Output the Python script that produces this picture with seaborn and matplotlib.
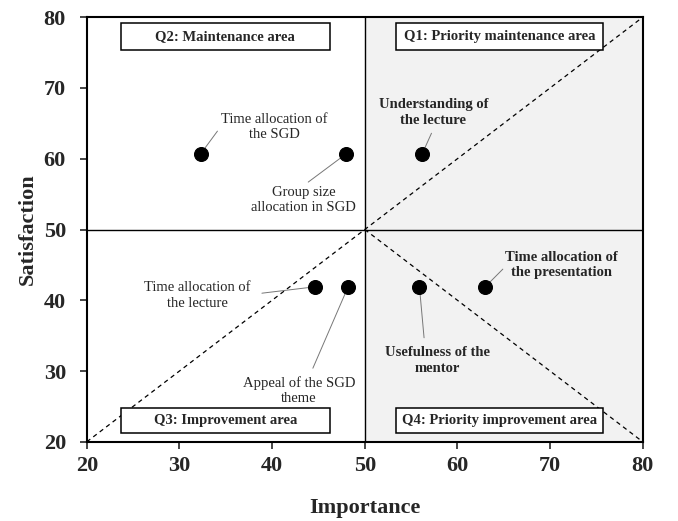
import matplotlib
matplotlib.use("Agg")
import matplotlib.pyplot as plt
from matplotlib.patches import Rectangle
import seaborn as sns
import pandas as pd

# IPA data
items = ["Time allocation of\nthe SGD", "Group size\nallocation in SGD", "Understanding of\nthe lecture",
         "Time allocation of\nthe lecture", "Appeal of the SGD\ntheme", "Usefulness of the\nmentor",
         "Time allocation of\nthe presentation"]
importance = [32.3, 48.0, 56.2, 44.6, 48.2, 55.9, 63.0]
satisfaction = [60.7, 60.7, 60.7, 41.9, 41.9, 41.9, 41.9]
bold_item = [False, False, True, False, False, True, True]
# label centre for each item
label_x = [40.2, 43.4, 57.4, 31.9, 42.9, 57.8, 71.2]
label_y = [64.5, 54.2, 66.5, 40.7, 27.2, 31.5, 45.0]
# where the leader line ends near the label
line_x = [34.1, 43.9, 57.2, 38.9, 44.4, 56.4, 64.9]
line_y = [63.9, 56.7, 63.6, 41.0, 30.4, 34.7, 44.4]

quadrants = ["Q2: Maintenance area", "Q1: Priority maintenance area",
             "Q3: Improvement area", "Q4: Priority improvement area"]
quad_x0 = [23.7, 53.4, 23.7, 53.4]
quad_x1 = [46.2, 75.7, 46.2, 75.7]
quad_y0 = [75.4, 75.4, 21.2, 21.2]
quad_y1 = [79.2, 79.2, 24.8, 24.8]

df = pd.DataFrame({"Importance": importance, "Satisfaction": satisfaction})

sns.set_style("ticks")
plt.rcParams["font.family"] = ["Liberation Serif", "DejaVu Serif"]

fig, ax = plt.subplots(figsize=(6.78, 5.21), dpi=100)
fig.subplots_adjust(left=0.128, right=0.948, top=0.967, bottom=0.152)

ax.set_xlim(20, 80)
ax.set_ylim(20, 80)

# shaded right half + quadrant lines
ax.axvspan(50, 80, color="#f2f2f2", zorder=0)
ax.axvline(50, color="black", lw=1, zorder=1)
ax.axhline(50, color="black", lw=1, zorder=1)
ax.plot([20, 80], [20, 80], ls=(0, (3.5, 3)), color="black", lw=0.9, zorder=1)
ax.plot([50, 80], [50, 20], ls=(0, (3.5, 3)), color="black", lw=0.9, zorder=1)

for q, x0, x1, y0, y1 in zip(quadrants, quad_x0, quad_x1, quad_y0, quad_y1):
    ax.add_patch(Rectangle((x0, y0), x1 - x0, y1 - y0, fc="white", ec="black", lw=1.1, zorder=4))
    ax.text((x0 + x1) / 2, (y0 + y1) / 2, q, ha="center", va="center",
            fontsize=10.5, fontweight="bold", zorder=5)

sns.scatterplot(data=df, x="Importance", y="Satisfaction", ax=ax, color="black",
                s=100, edgecolor="black", zorder=6, legend=False)

for i in range(len(items)):
    ax.plot([importance[i], line_x[i]], [satisfaction[i], line_y[i]], color="#777777", lw=0.7, zorder=3)
    ax.text(label_x[i], label_y[i], items[i], ha="center", va="center", fontsize=10.5,
            fontweight="bold" if bold_item[i] else "normal", linespacing=1.25, zorder=4)

ax.set_xticks(range(20, 81, 10))
ax.set_yticks(range(20, 81, 10))
ax.tick_params(labelsize=16, width=1.2, length=5, direction="out")
ax.tick_params(axis="y", pad=10)
ax.tick_params(axis="x", pad=5)
for lbl in ax.get_xticklabels() + ax.get_yticklabels():
    lbl.set_fontweight("bold")
for sp in ax.spines.values():
    sp.set_visible(True)
    sp.set_linewidth(1.5)
    sp.set_color("black")

ax.set_xlabel("Importance", fontsize=16, fontweight="bold", labelpad=16)
ax.set_ylabel("Satisfaction", fontsize=16, fontweight="bold", labelpad=4)

fig.savefig("out.png", dpi=100)
